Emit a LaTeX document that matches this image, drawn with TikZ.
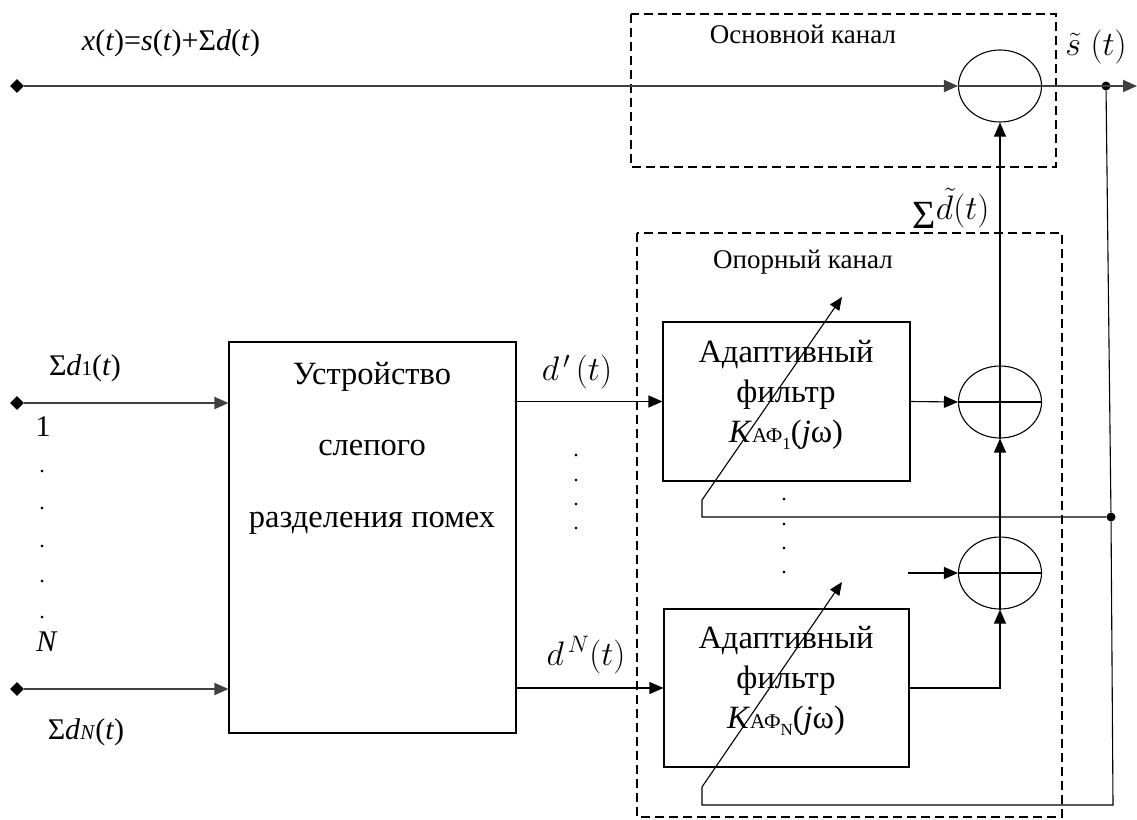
\RequirePackage{fix-cm}
\documentclass[tikz,border=0pt]{standalone}
\usepackage{amsmath}
\usepackage{fontspec}
\setmainfont{Liberation Serif}
\usetikzlibrary{arrows.meta,shapes.geometric}
\begin{document}
\begin{tikzpicture}[x=1pt,y=-1pt,
  box/.style={draw, line width=1.1pt, inner sep=0pt},
  arr/.style={line width=1.1pt, -{Triangle[length=14pt,width=12pt]}},
  aarr/.style={line width=1.1pt, -{Triangle[length=13pt,width=11pt]}},
  ln/.style={line width=1.1pt},
  sig/.style={line width=1.8pt, draw=black!75, fill=black!75},
  dsh/.style={line width=1.1pt, dash pattern=on 9pt off 5pt},
  sumc/.style={ellipse, draw, line width=1.1pt, minimum width=83pt, minimum height=72pt, inner sep=0pt},
  txt/.style={font=\fontsize{32.5}{40}\selectfont, inner sep=0pt, align=center},
  ttl/.style={font=\fontsize{27}{30}\selectfont, inner sep=0pt},
  lab/.style={font=\fontsize{30}{34}\selectfont, inner sep=0pt},
  mlab/.style={font=\fontsize{34}{38}\selectfont, inner sep=0pt},
  dotl/.style={font=\fontsize{22}{22}\selectfont, inner sep=0pt, anchor=base},
  pin/.style={diamond, fill, inner sep=0pt, minimum width=14pt, minimum height=14pt},
  jdot/.style={circle, fill, inner sep=0pt, minimum size=9pt}]
\useasboundingbox (0,0) rectangle (1137,819);

% dashed channel frames
\draw[dsh] (631,14) rectangle (1056,167);
\draw[dsh] (637,233) rectangle (1062,817);
\node[ttl] (tt0) at (803,34) {Основной канал};
\node[ttl] (tt1) at (803,262) {Опорный канал};

% input pins
\node[pin] (in0) at (17,86) {};
\node[pin] (in1) at (17,403) {};
\node[pin] (inN) at (17,689) {};

% summing circles
\node[sumc] (c0) at (1000,86) {};
\node[sumc] (s1) at (1000,402) {};
\node[sumc] (s2) at (1000,573) {};
\draw[ln] (s1.north) -- (s1.south) (s1.west) -- (s1.east);
\draw[ln] (s2.north) -- (s2.south) (s2.west) -- (s2.east);

% blocks
\node[box, minimum width=287pt, minimum height=391pt] (bss) at (372.5,537.5) {};
\node[txt] (bt1) at (372,377) {Устройство};
\node[txt] (bt2) at (372,448) {слепого};
\node[txt] (bt3) at (372,523) {разделения помех};

\node[box, minimum width=247pt, minimum height=159pt] (f1) at (786.5,401.5) {};
\node[box, minimum width=245pt, minimum height=158pt] (fN) at (786.5,688) {};
\node[txt] (f1t) at (786,395) {Адаптивный\\фильтр\\\textit{K}{\fontsize{21}{21}\selectfont АФ}\raisebox{-7pt}{\fontsize{17}{17}\selectfont 1}(\textit{j}ω)};
\node[txt] (fNt) at (786,681) {Адаптивный\\фильтр\\\textit{K}{\fontsize{21}{21}\selectfont АФ}\raisebox{-7pt}{\fontsize{17}{17}\selectfont N}(\textit{j}ω)};

% junctions
\node[jdot] (j0) at (1106,86) {};
\node[jdot] (j1) at (1111,517) {};
\coordinate (o0) at (1137,86);
\coordinate (fbN) at (1113,805);
\coordinate (aNb) at (702,805);
\coordinate (aNc) at (702,787);
\coordinate (aNt) at (842,582);
\coordinate (a1b) at (702,517);
\coordinate (a1c) at (702,500);
\coordinate (a1t) at (842,297);
\coordinate (s2in) at (908,573);

% main channel
\draw[arr,sig] (in0) -- (c0.west);
\draw[sig] (c0.west) -- (c0.east);
\draw[arr,sig] (c0.east) -- (o0);

% inputs to separator
\draw[arr,sig] (in1) -- (bss.west |- in1);
\draw[arr,sig] (inN) -- (bss.west |- inN);

% separator outputs to filters
\draw[arr] (bss.east |- f1.west) -- (f1.west);
\draw[arr] (bss.east |- fN.west) -- (fN.west);

% filters to adders
\draw[arr] (f1.east) -- (s1.west);
\draw[arr] (fN.east) -| (s2.south);
\draw[arr] (s2in) -- (s2.west);
\draw[arr] (s2.north) -- (s1.south);
\draw[arr] (s1.north) -- (c0.south);

% feedback
\draw[ln] (j0) -- (j1);
\draw[aarr] (j1) -- (fbN) -- (aNb) -- (aNc) -- (aNt);
\draw[aarr] (j1) -- (a1b) -- (a1c) -- (a1t);

% labels
\node[lab] (lx) at (171,43) {\textit{x}(\textit{t})=\textit{s}(\textit{t})+Σ\textit{d}(\textit{t})};
\node[lab] (ld1) at (85,368) {Σ\textit{d}{\fontsize{21}{21}\selectfont 1}(\textit{t})};
\node[lab] (ldN) at (86,732) {Σ\textit{d}{\fontsize{21}{21}\selectfont\textit{N}}(\textit{t})};
\node[lab] (l1) at (43,427) {1};
\node[lab] (lN) at (47,642) {\textit{N}};
\node[mlab] (ls) at (1096,47) {$\tilde{s}\;(t)$};
\node[mlab] (lsum) at (951,208) {{\fontsize{40}{40}\selectfont Σ}\raisebox{9pt}{$\tilde{d}(t)$}};
\node[mlab] (ldo1) at (577,372) {$d^{\,\prime}\,(t)$};
\node[mlab] (ldoN) at (586,655) {$d^{\,N}(t)$};

% ellipsis dots
\foreach \y [count=\i] in {470,507,545,580,616} \node[dotl] (dl\i) at (42,\y+2) {.};
\foreach \y [count=\i] in {454,479,503,527} \node[dotl] (dm\i) at (576,\y+2) {.};
\foreach \y [count=\i] in {498,523,547,571} \node[dotl] (dr\i) at (784,\y+2) {.};
\end{tikzpicture}
\end{document}
